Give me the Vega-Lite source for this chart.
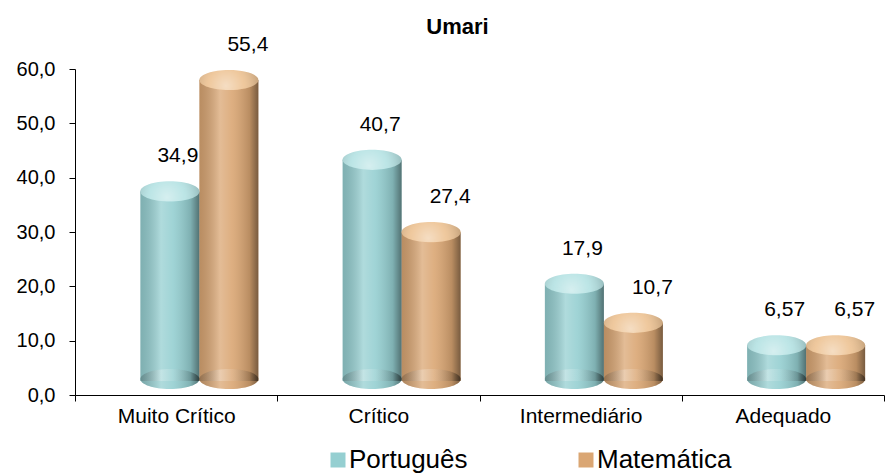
{
  "$schema": "https://vega.github.io/schema/vega-lite/v6.json",
  "width": 809,
  "height": 326,
  "autosize": {"type": "none"},
  "padding": {"left": 75, "top": 69, "right": 2, "bottom": 79},
  "background": "white",
  "title": {"text": "Umari", "fontSize": 22, "fontWeight": "bold", "font": "Liberation Sans", "color": "black", "anchor": "middle", "dx": -22, "offset": -5},
  "data": {"values": [
    {"categoria": "Muito Crítico", "serie": "Português", "value": 34.9},
    {"categoria": "Muito Crítico", "serie": "Matemática", "value": 55.4},
    {"categoria": "Crítico", "serie": "Português", "value": 40.7},
    {"categoria": "Crítico", "serie": "Matemática", "value": 27.4},
    {"categoria": "Intermediário", "serie": "Português", "value": 17.9},
    {"categoria": "Intermediário", "serie": "Matemática", "value": 10.7},
    {"categoria": "Adequado", "serie": "Português", "value": 6.57},
    {"categoria": "Adequado", "serie": "Matemática", "value": 6.57}
  ]},
  "transform": [{"calculate": "replace(toString(datum.value), '.', ',')", "as": "label"}],
  "encoding": {
    "x": {"field": "categoria", "type": "nominal", "sort": ["Muito Crítico", "Crítico", "Intermediário", "Adequado"],
      "scale": {"paddingInner": 0, "paddingOuter": 0},
      "axis": {"title": null, "tickBand": "extent", "labelAngle": 0, "domainColor": "black", "tickColor": "black", "tickSize": 6, "labelPadding": 4, "labelFontSize": 21, "labelFont": "Liberation Sans", "labelColor": "black"}},
    "xOffset": {"field": "serie", "type": "nominal", "sort": ["Português", "Matemática"], "scale": {"paddingInner": 0, "paddingOuter": 0.714, "align": 0.776}}
  },
  "layer": [
    {
      "mark": {"type": "bar", "yOffset": -14, "y2Offset": -16},
      "encoding": {
        "y": {"field": "value", "type": "quantitative", "title": null, "scale": {"domain": [0, 60]},
          "axis": {"title": null, "values": [0, 10, 20, 30, 40, 50, 60], "labelExpr": "replace(format(datum.value, '.1f'), '.', ',')", "grid": false, "domainColor": "black", "tickColor": "black", "tickSize": 6, "labelPadding": 14, "labelFontSize": 20, "labelFont": "Liberation Sans", "labelColor": "black"}},
        "color": {"field": "serie", "type": "nominal", "scale": {"domain": ["Português", "Matemática"], "range": ["#95CFD1", "#DAA673"]},
          "legend": {"orient": "none", "legendX": 250, "legendY": 378, "direction": "horizontal", "columns": 2, "columnPadding": 105, "symbolType": "square", "symbolSize": 225, "symbolStrokeWidth": 0, "labelFontSize": 26, "labelFont": "Liberation Sans", "labelColor": "black", "labelOffset": -2, "title": null}}
      }
    },
    {
      "mark": {"type": "point", "shape": "M -1 0 A 1 0.34 0 1 0 1 0 A 1 0.34 0 1 0 -1 0 Z", "size": 3481, "filled": true, "opacity": 1, "strokeWidth": 0, "yOffset": -16},
      "encoding": {
        "y": {"datum": 0, "type": "quantitative", "title": null},
        "color": {"field": "serie", "type": "nominal"}
      }
    },
    {
      "mark": {"type": "point", "shape": "M -1 0 A 1 0.34 0 1 0 1 0 A 1 0.34 0 1 0 -1 0 Z", "size": 3481, "filled": true, "opacity": 1, "strokeWidth": 0, "yOffset": -16,
        "fill": {"gradient": "linear", "x1": 0, "y1": 0, "x2": 1, "y2": 0, "stops": [
          {"offset": 0, "color": "rgba(0,0,0,0.2)"}, {"offset": 0.35, "color": "rgba(255,255,255,0.25)"}, {"offset": 0.55, "color": "rgba(255,255,255,0.1)"}, {"offset": 0.85, "color": "rgba(0,0,0,0.15)"}, {"offset": 1, "color": "rgba(0,0,0,0.45)"}]}},
      "encoding": {
        "y": {"datum": 0, "type": "quantitative", "title": null}
      }
    },
    {
      "mark": {"type": "bar", "yOffset": -14, "y2Offset": -16,
        "fill": {"gradient": "linear", "x1": 0, "y1": 0, "x2": 1, "y2": 0, "stops": [
          {"offset": 0, "color": "rgba(0,0,0,0.15)"}, {"offset": 0.35, "color": "rgba(255,255,255,0.25)"}, {"offset": 0.55, "color": "rgba(255,255,255,0.1)"}, {"offset": 0.85, "color": "rgba(0,0,0,0.15)"}, {"offset": 1, "color": "rgba(0,0,0,0.45)"}]}},
      "encoding": {
        "y": {"field": "value", "type": "quantitative", "title": null}
      }
    },
    {
      "mark": {"type": "point", "shape": "M -1 0 A 1 0.34 0 1 0 1 0 A 1 0.34 0 1 0 -1 0 Z", "size": 3481, "filled": true, "opacity": 1, "strokeWidth": 0, "yOffset": -14},
      "encoding": {
        "y": {"field": "value", "type": "quantitative", "title": null},
        "fill": {"field": "serie", "type": "nominal", "scale": {"domain": ["Português", "Matemática"], "range": ["#B4E2E3", "#EDC292"]}, "legend": null}
      }
    },
    {
      "mark": {"type": "point", "shape": "M -1 0 A 1 0.34 0 1 0 1 0 A 1 0.34 0 1 0 -1 0 Z", "size": 3481, "filled": true, "opacity": 1, "strokeWidth": 0, "yOffset": -14,
        "fill": {"gradient": "radial", "x1": 0.45, "y1": 0.6, "r1": 0, "x2": 0.45, "y2": 0.6, "r2": 0.6, "stops": [
          {"offset": 0, "color": "rgba(255,255,255,0.45)"}, {"offset": 0.5, "color": "rgba(255,255,255,0.1)"}, {"offset": 1, "color": "rgba(0,0,0,0.2)"}]}},
      "encoding": {
        "y": {"field": "value", "type": "quantitative", "title": null}
      }
    },
    {
      "transform": [{"filter": "datum.serie === 'Português'"}],
      "mark": {"type": "text", "fontSize": 21, "font": "Liberation Sans", "color": "black", "baseline": "middle", "dy": -49, "dx": 8},
      "encoding": {
        "y": {"field": "value", "type": "quantitative", "title": null},
        "text": {"field": "label"}
      }
    },
    {
      "transform": [{"filter": "datum.serie === 'Matemática'"}],
      "mark": {"type": "text", "fontSize": 21, "font": "Liberation Sans", "color": "black", "baseline": "middle", "dy": -49, "dx": 19},
      "encoding": {
        "y": {"field": "value", "type": "quantitative", "title": null},
        "text": {"field": "label"}
      }
    }
  ],
  "config": {"view": {"stroke": null}}
}
